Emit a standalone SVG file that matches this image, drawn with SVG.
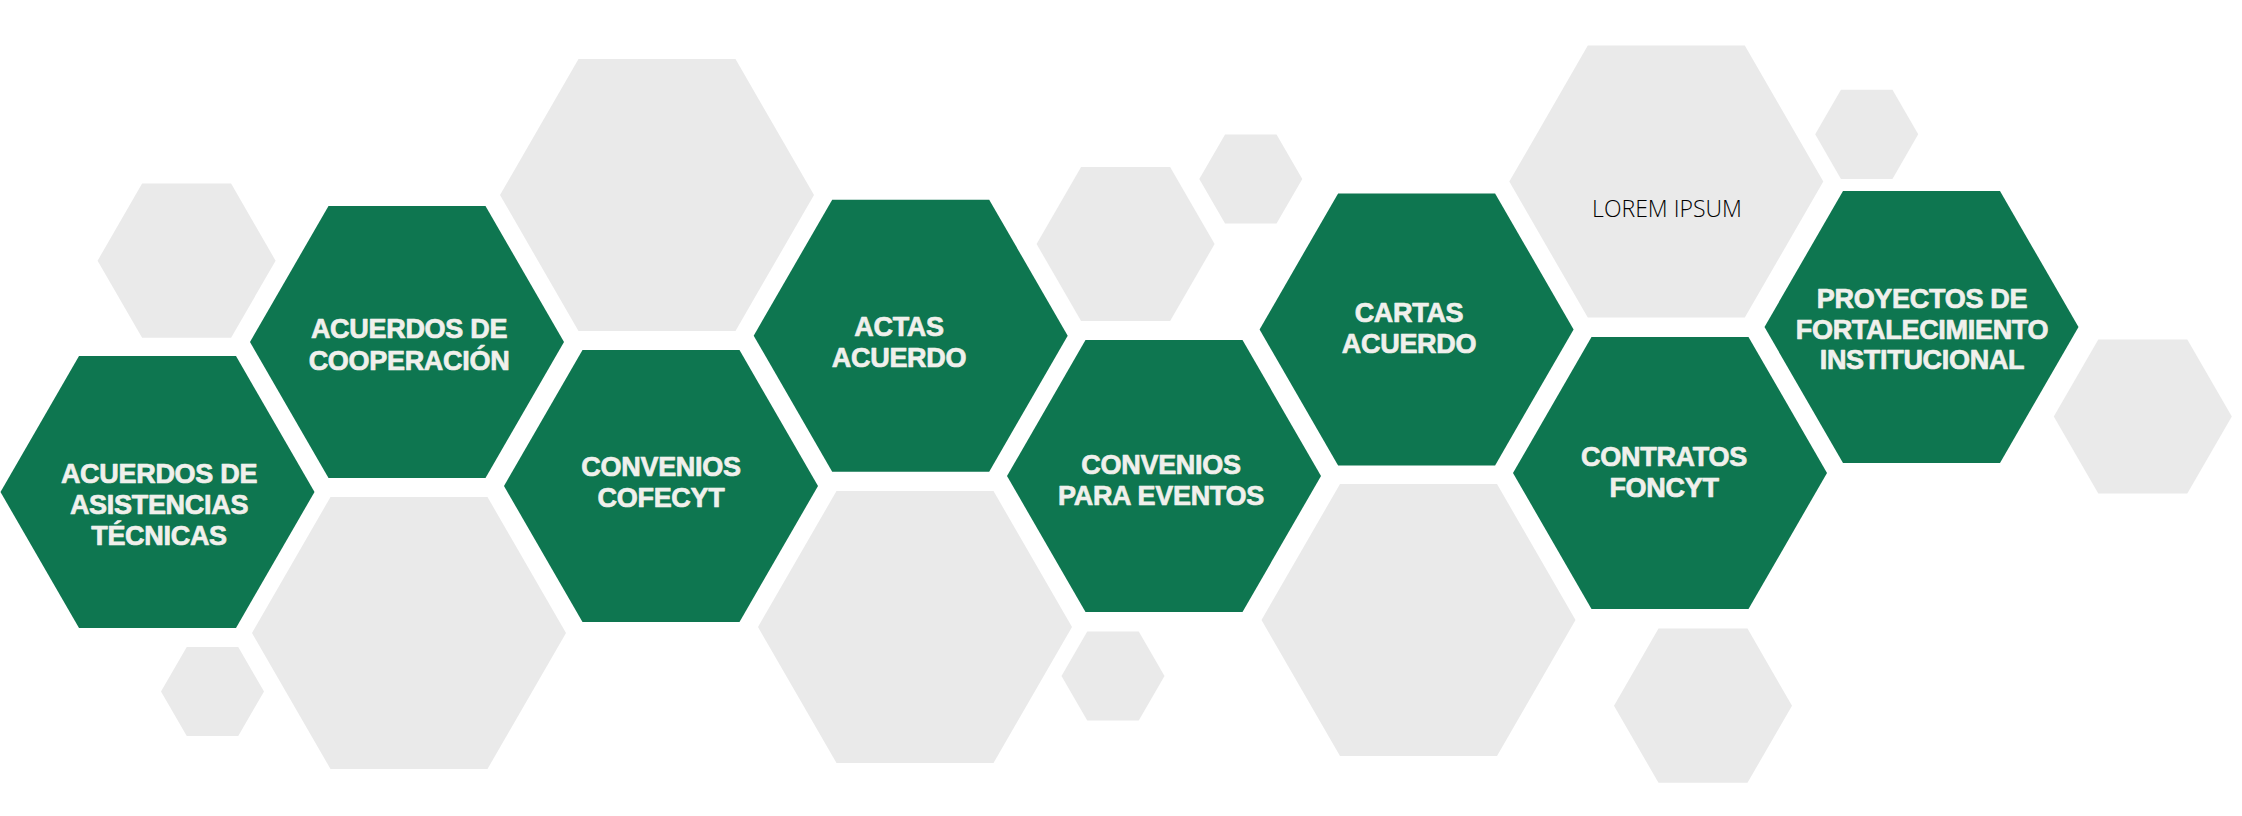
<svg xmlns="http://www.w3.org/2000/svg" xmlns:xlink="http://www.w3.org/1999/xlink" width="2242" height="816" viewBox="0 0 2242 816">
  <style>
    .g{fill:#0E7650}
    .b{fill:#EAEAEA}
    .t{font-family:"Liberation Sans",Arial,sans-serif;font-weight:700;font-size:27px;letter-spacing:-0.3px;fill:#F0F0EC;stroke:#F0F0EC;stroke-width:0.7px;stroke-linejoin:round;text-anchor:middle}
    .l{font-family:"Open Sans","Liberation Sans",sans-serif;font-weight:300;font-size:23px;fill:#000000;text-anchor:middle}
  </style>
  <defs>
    <polygon id="hexL" points="-157,0 -78.5,-136 78.5,-136 157,0 78.5,136 -78.5,136"/>
    <polygon id="hexM" points="-89,0 -44.5,-77.1 44.5,-77.1 89,0 44.5,77.1 -44.5,77.1"/>
    <polygon id="hexS" points="-51.5,0 -25.75,-44.6 25.75,-44.6 51.5,0 25.75,44.6 -25.75,44.6"/>
  </defs>
  <rect width="2242" height="816" fill="#FFFFFF"/>
  <g id="decor">
    <use href="#hexL" class="b" x="657" y="195"/>
    <use href="#hexL" class="b" x="409" y="633"/>
    <use href="#hexL" class="b" x="915" y="627"/>
    <use href="#hexL" class="b" x="1418.5" y="620"/>
    <use href="#hexM" class="b" x="186.6" y="260.7"/>
    <use href="#hexM" class="b" x="1125.6" y="244"/>
    <use href="#hexM" class="b" x="2142.8" y="416.5"/>
    <use href="#hexM" class="b" x="1703" y="705.7"/>
    <use href="#hexS" class="b" x="212.5" y="691.5"/>
    <use href="#hexS" class="b" x="1250.8" y="179"/>
    <use href="#hexS" class="b" x="1113" y="676"/>
    <use href="#hexS" class="b" x="1866.7" y="134.3"/>
  </g>
  <g id="lorem">
    <use href="#hexL" class="b" x="1666.3" y="181.6"/>
    <text class="l" x="1667" y="217">LOREM IPSUM</text>
  </g>
  <g id="asistencias">
    <use href="#hexL" class="g" x="157.5" y="492"/>
    <text class="t" y="483"><tspan x="159">ACUERDOS DE</tspan><tspan x="159" dy="31">ASISTENCIAS</tspan><tspan x="159" dy="31">TÉCNICAS</tspan></text>
  </g>
  <g id="cooperacion">
    <use href="#hexL" class="g" x="407" y="342"/>
    <text class="t" y="338"><tspan x="409">ACUERDOS DE</tspan><tspan x="409" dy="32">COOPERACIÓN</tspan></text>
  </g>
  <g id="cofecyt">
    <use href="#hexL" class="g" x="661" y="486"/>
    <text class="t" y="476"><tspan x="661">CONVENIOS</tspan><tspan x="661" dy="31">COFECYT</tspan></text>
  </g>
  <g id="actas">
    <use href="#hexL" class="g" x="910.7" y="335.7"/>
    <text class="t" y="336"><tspan x="899">ACTAS</tspan><tspan x="899" dy="31">ACUERDO</tspan></text>
  </g>
  <g id="eventos">
    <use href="#hexL" class="g" x="1164" y="476"/>
    <text class="t" y="474"><tspan x="1161">CONVENIOS</tspan><tspan x="1161" dy="31">PARA EVENTOS</tspan></text>
  </g>
  <g id="cartas">
    <use href="#hexL" class="g" x="1416.6" y="329.4"/>
    <text class="t" y="322"><tspan x="1409">CARTAS</tspan><tspan x="1409" dy="31">ACUERDO</tspan></text>
  </g>
  <g id="contratos">
    <use href="#hexL" class="g" x="1670" y="473"/>
    <text class="t" y="466"><tspan x="1664">CONTRATOS</tspan><tspan x="1664" dy="31">FONCYT</tspan></text>
  </g>
  <g id="proyectos">
    <use href="#hexL" class="g" x="1921.5" y="327"/>
    <text class="t" y="308"><tspan x="1922">PROYECTOS DE</tspan><tspan x="1922" dy="30.6">FORTALECIMIENTO</tspan><tspan x="1922" dy="30.6">INSTITUCIONAL</tspan></text>
  </g>
  <g id="connectors"/>
</svg>
